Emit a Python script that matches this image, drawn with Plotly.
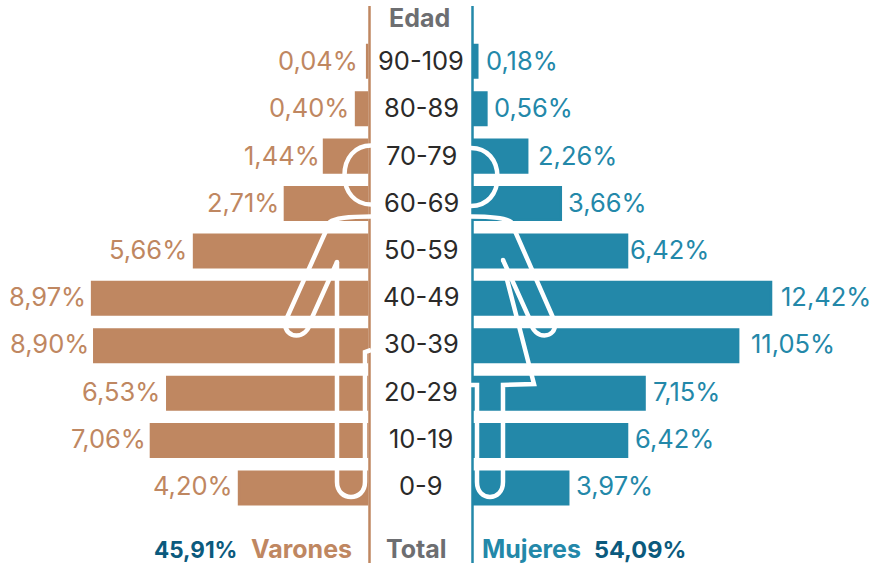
import plotly.graph_objects as go

W, H = 879, 563
ages = ["0-9", "10-19", "20-29", "30-39", "40-49", "50-59", "60-69", "70-79", "80-89", "90-109"]
varones = [4.20, 7.06, 6.53, 8.90, 8.97, 5.66, 2.71, 1.44, 0.40, 0.04]
mujeres = [3.97, 6.42, 7.15, 11.05, 12.42, 6.42, 3.66, 2.26, 0.56, 0.18]
varones_lbl = ["4,20%", "7,06%", "6,53%", "8,90%", "8,97%", "5,66%", "2,71%", "1,44%", "0,40%", "0,04%"]
mujeres_lbl = ["3,97%", "6,42%", "7,15%", "11,05%", "12,42%", "6,42%", "3,66%", "2,26%", "0,56%", "0,18%"]

BROWN, BLUE, DARK, GREY, NAVY = "#BF8761", "#2388A9", "#2B2A29", "#6D6E71", "#0B5A7D"
FONT = "Inter"
LX, RX = 369.5, 472.5      # axis lines
LZ, RZ = 368.3, 473.05     # zero of each value scale
LS, RS = 30.8, 24.0
STROKE = 2.3
L_NUDGE = [1.4, 1.8, -0.1, 1.4, 1.4, -0.1, 0.7, 2.9, 0.1, -1.8]
R_NUDGE = [1, 0.5, 1, 6, 2.5, -4, 0.5, 4, 1, 1.5]

fig = go.Figure()
fig.add_bar(y=ages, x=varones, orientation="h", xaxis="x", yaxis="y",
            marker=dict(color=BROWN, line=dict(color=BROWN, width=STROKE)), showlegend=False, hoverinfo="skip")
fig.add_bar(y=ages, x=mujeres, orientation="h", xaxis="x2", yaxis="y",
            marker=dict(color=BLUE, line=dict(color=BLUE, width=STROKE)), showlegend=False, hoverinfo="skip")

ann = []
for i, (a, v, t, n) in enumerate(zip(ages, varones, varones_lbl, L_NUDGE)):
    ann.append(dict(x=v, y=a, xref="x", yref="y", text=t, showarrow=False, xanchor="right", xshift=-5 + n,
                    yshift=2.5 - 0.2 * i, font=dict(color=BROWN, size=25.5, family=FONT)))
for i, (a, v, t, n) in enumerate(zip(ages, mujeres, mujeres_lbl, R_NUDGE)):
    ann.append(dict(x=v, y=a, xref="x2", yref="y", text=t, showarrow=False, xanchor="left", xshift=5 + n,
                    yshift=2.5 - 0.2 * i, font=dict(color=BLUE, size=25.5, family=FONT)))
for i, a in enumerate(ages):
    ann.append(dict(x=421 / W, y=a, xref="paper", yref="y", text=a, showarrow=False, xanchor="center",
                    yshift=2.5 - 0.2 * i, font=dict(color=DARK, size=25.5, family=FONT)))


def txt(x, y, t, color, anchor="center", size=25):
    ann.append(dict(x=x / W, y=1 - y / H, xref="paper", yref="paper", text=f"<b>{t}</b>", showarrow=False,
                    xanchor=anchor, yanchor="middle", font=dict(color=color, size=size, family=FONT)))


txt(419.5, 18, "Edad", GREY)
txt(195, 549, "45,91%", NAVY, size=22.5)
txt(301, 549, "Varones", BROWN)
txt(416.5, 549, "Total", GREY)
txt(531.5, 549, "Mujeres", BLUE)
txt(640, 549, "54,09%", NAVY, size=23.5)


def P(x, y):
    return f"{x / W:.5f} {1 - y / H:.5f}"


def path(*cmds):
    out = []
    for c in cmds:
        out.append(c[0] + " " + " ".join(P(*p) for p in c[1:]))
    return " ".join(out)


sil = [
    # head
    path(("M", (371, 145.5)), ("C", (355, 145.5), (344.5, 158), (344.5, 175)), ("C", (344.5, 192), (355, 204.5), (371, 204.5))),
    path(("M", (471, 148)), ("C", (487, 148), (497.5, 160), (497.5, 177)), ("C", (497.5, 194), (487, 206), (471, 206))),
    # left body
    path(("M", (371, 216.5)), ("C", (355, 216.5), (336, 217), (330, 222)), ("L", (285, 322)),
         ("C", (284, 340), (308, 340), (310, 322)), ("L", (337, 262)), ("L", (337, 482)),
         ("C", (337, 502), (365, 502), (365, 482)), ("L", (365, 352)), ("L", (371, 350))),
    # right body
    path(("M", (471, 216.5)), ("C", (487, 216.5), (505, 217), (511, 222)), ("L", (555, 322)),
         ("C", (557, 340), (533, 340), (531, 322)), ("L", (503, 260))),
    path(("M", (505, 272)), ("L", (534, 384)), ("L", (503, 385)), ("L", (503, 482)),
         ("C", (503, 502), (477, 502), (477, 482)), ("L", (477, 385)), ("L", (471, 385))),
]
shapes = [
    dict(type="line", xref="paper", yref="paper", x0=LX / W, x1=LX / W, y0=0, y1=1 - 6 / H, line=dict(color=BROWN, width=2.5), layer="above"),
    dict(type="line", xref="paper", yref="paper", x0=RX / W, x1=RX / W, y0=0, y1=1 - 6 / H, line=dict(color=BLUE, width=2.5), layer="above"),
]
shapes += [dict(type="path", xref="paper", yref="paper", path=p, line=dict(color="white", width=4.5), layer="above") for p in sil]
for cx, cy in [(337, 262), (503, 260)]:
    shapes.append(dict(type="circle", xref="paper", yref="paper", x0=(cx - 2.25) / W, x1=(cx + 2.25) / W,
                       y0=1 - (cy + 2.25) / H, y1=1 - (cy - 2.25) / H, fillcolor="white", line_width=0, layer="above"))

y0_px, y9_px = 488.0, 61.3
pitch = (y0_px - y9_px) / 9
fig.update_layout(
    width=W, height=H, margin=dict(l=0, r=0, t=0, b=0), autosize=False,
    paper_bgcolor="white", plot_bgcolor="white", bargap=0.31, annotations=ann, shapes=shapes,
    xaxis=dict(domain=[0, LZ / W], range=[LZ / LS, 0], visible=False),
    xaxis2=dict(domain=[RZ / W, 1], range=[0, (W - RZ) / RS], visible=False, anchor="y"),
    yaxis=dict(type="category", categoryorder="array", categoryarray=ages, visible=False, domain=[0, 1],
               range=[-(H - y0_px) / pitch, y0_px / pitch]),
)
fig.write_html("out.html", config=dict(displayModeBar=False),
               post_script="document.body.style.margin='0';document.body.style.overflow='hidden';")
